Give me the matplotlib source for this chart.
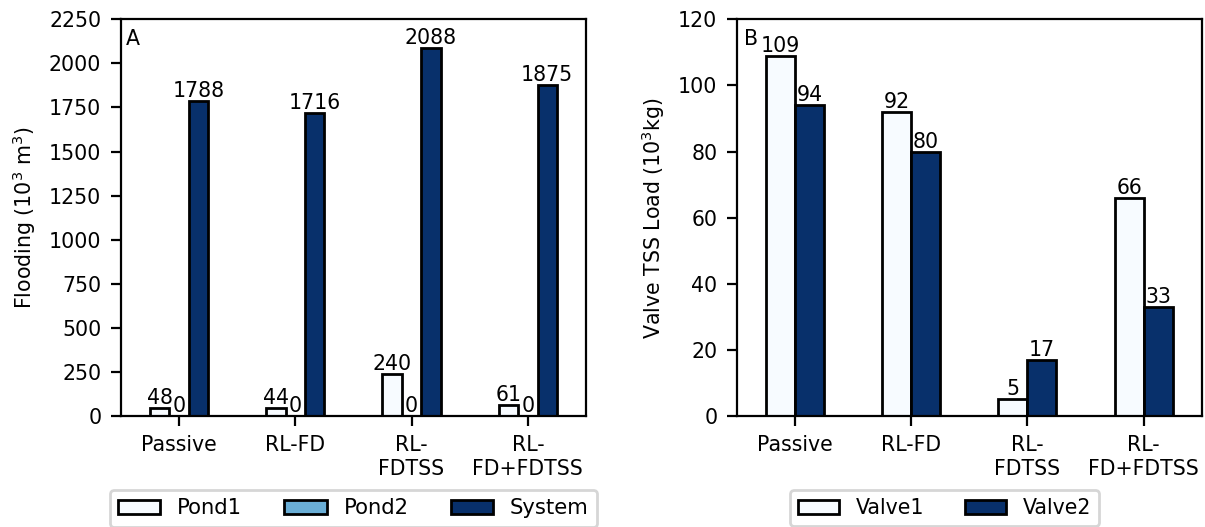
import numpy as np
import matplotlib
matplotlib.use("Agg")
import matplotlib.pyplot as plt

scenario_ticks = ["Passive", "RL-FD", "RL-\nFDTSS", "RL-\nFD+FDTSS"]

# flooding volumes (10^3 m^3)
pond1_flood = [48, 44, 240, 61]
pond2_flood = [0, 0, 0, 0]
system_flood = [1788, 1716, 2088, 1875]

# TSS load through the valves (10^3 kg)
valve1_tss = [109, 92, 5, 66]
valve2_tss = [94, 80, 17, 33]

FS = 7.4
plt.rcParams["font.size"] = FS
cmap = plt.get_cmap("Blues")

fig = plt.figure(figsize=(1205 / 200, 527 / 200), dpi=200)
axA = fig.add_axes([0.1002, 0.2106, 0.3861, 0.7528])
axB = fig.add_axes([0.6114, 0.2106, 0.3859, 0.7528])


def grouped_bars(ax, series, names):
    n = len(series)
    width = 0.5 / n
    x = np.arange(len(scenario_ticks))
    colors = [cmap(v) for v in np.linspace(0, 1, n)]
    for i, (vals, name) in enumerate(zip(series, names)):
        pos = x + (i - (n - 1) / 2) * width
        ax.bar(pos, vals, width, color=colors[i], edgecolor="black",
               linewidth=1.0, label=name)
        for px, v in zip(pos, vals):
            ax.text(px, v, str(v), ha="center", va="bottom", fontsize=FS)
    ax.set_xticks(x)
    ax.set_xticklabels(scenario_ticks)
    ax.set_xlim(-0.5, len(x) - 0.5)


grouped_bars(axA, [pond1_flood, pond2_flood, system_flood],
             ["Pond1", "Pond2", "System"])
axA.set_ylim(0, 2250)
axA.set_yticks(np.arange(0, 2251, 250))
axA.set_ylabel("Flooding (10$^3$ m$^3$)")
axA.text(0.012, 0.975, "A", transform=axA.transAxes, ha="left", va="top")
axA.legend(loc="upper center", bbox_to_anchor=(0.5, -0.16), ncol=3,
           fontsize=7.6)

grouped_bars(axB, [valve1_tss, valve2_tss], ["Valve1", "Valve2"])
axB.set_ylim(0, 120)
axB.set_yticks(np.arange(0, 121, 20))
axB.set_ylabel("Valve TSS Load (10$^3$kg)")
axB.text(0.015, 0.975, "B", transform=axB.transAxes, ha="left", va="top")
axB.legend(loc="upper center", bbox_to_anchor=(0.447, -0.16), ncol=2)

fig.savefig("out.png", dpi=200)
